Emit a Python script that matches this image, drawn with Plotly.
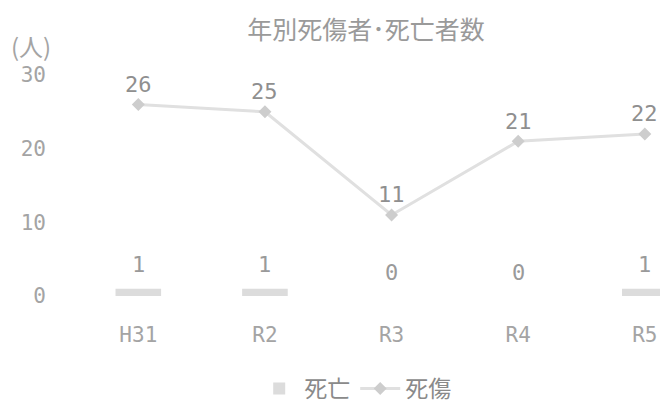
import plotly.graph_objects as go

categories = ["H31", "R2", "R3", "R4", "R5"]
deaths = [1, 1, 0, 0, 1]
casualties = [26, 25, 11, 21, 22]
y_ticks = [0, 10, 20, 30]

TXT = "#a4a4a4"
NUM_FONT = "DejaVu Sans Mono"
CJK_FONT = "Noto Sans CJK JP"

fig = go.Figure()
fig.add_trace(go.Bar(
    x=categories, y=deaths, name="死亡",
    marker=dict(color="#dcdcdc", line=dict(width=0)),
    width=0.36,
))
fig.add_trace(go.Scatter(
    x=categories, y=casualties, name="死傷",
    mode="lines+markers",
    line=dict(color="#e0e0e0", width=3),
    marker=dict(symbol="diamond", size=10, color="#cdcdcd"),
))

annotations = []
for c, v in zip(categories, casualties):
    annotations.append(dict(x=c, y=v, text=str(v), showarrow=False, yshift=20,
                            font=dict(family=NUM_FONT, size=22, color="#8f8f8f")))
for c, v in zip(categories, deaths):
    annotations.append(dict(x=c, y=v, text=str(v), showarrow=False, yshift=24,
                            font=dict(family=NUM_FONT, size=22, color="#9a9a9a")))
annotations.append(dict(xref="paper", yref="paper", x=-0.075, y=1.134, text="(人)",
                        xanchor="center", yanchor="middle",
                        showarrow=False, font=dict(family=CJK_FONT, size=24, color=TXT)))

fig.update_layout(
    width=652, height=402,
    margin=dict(l=67, r=0, t=67, b=111),
    paper_bgcolor="white", plot_bgcolor="white",
    title=dict(text="年別死傷者･死亡者数", x=0.549, xanchor="center", y=0.945, yanchor="middle",
               font=dict(family=CJK_FONT, size=25, color="#9a9a9a")),
    showlegend=True,
    legend=dict(orientation="h", x=0.479, xanchor="center", y=-0.42, yanchor="middle",
                font=dict(family=CJK_FONT, size=23, color="#8a8a8a"),
                itemwidth=40, traceorder="normal"),
    annotations=annotations,
    xaxis=dict(range=[-0.5, 4.12], showgrid=False, showline=False, zeroline=False,
               ticks="", ticklabelstandoff=24,
               tickfont=dict(family=NUM_FONT, size=21, color=TXT)),
    yaxis=dict(range=[0, 30], tickvals=y_ticks, showgrid=False, showline=False, zeroline=False,
               ticks="", ticklabelstandoff=28,
               tickfont=dict(family=NUM_FONT, size=21, color=TXT)),
)

fig.write_html("out.html")
